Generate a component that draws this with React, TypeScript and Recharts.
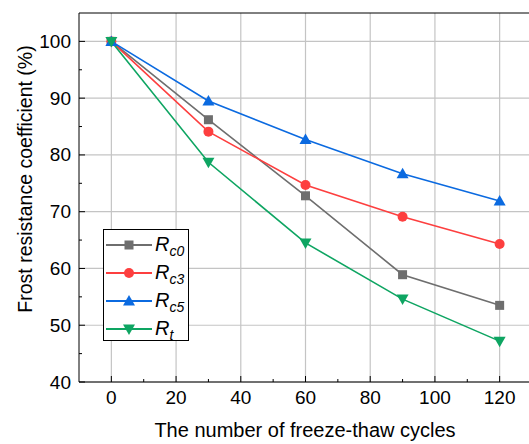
import React from 'react';
import { LineChart, Line, XAxis, YAxis, CartesianGrid, ReferenceLine } from 'recharts';

const cycles = [0, 30, 60, 90, 120];
const rc0 = [100, 86.2, 72.8, 58.9, 53.5];
const rc3 = [100, 84.1, 74.7, 69.1, 64.3];
const rc5 = [100, 89.5, 82.7, 76.7, 71.9];
const rt = [100, 78.7, 64.5, 54.6, 47.2];

const xTicks = [0, 10, 20, 30, 40, 50, 60, 70, 80, 90, 100, 110, 120];
const xMajor = [0, 20, 40, 60, 80, 100, 120];
const yTicks = [40, 45, 50, 55, 60, 65, 70, 75, 80, 85, 90, 95, 100];
const yMajor = [40, 50, 60, 70, 80, 90, 100];

const FONT = '"Liberation Sans", Arial, sans-serif';

const data = cycles.map((c, i) => ({ cycles: c, rc0: rc0[i], rc3: rc3[i], rc5: rc5[i], rt: rt[i] }));

type Shape = 'square' | 'circle' | 'up' | 'down';

const series: { key: string; sub: string; color: string; shape: Shape }[] = [
  { key: 'rc0', sub: 'c0', color: '#6e6e6e', shape: 'square' },
  { key: 'rc3', sub: 'c3', color: '#fd3f3f', shape: 'circle' },
  { key: 'rc5', sub: 'c5', color: '#0b6ae0', shape: 'up' },
  { key: 'rt', sub: 't', color: '#0ea562', shape: 'down' },
];

const marker = (shape: Shape, cx: number, cy: number, color: string) => {
  if (shape === 'square') return <rect x={cx - 4.5} y={cy - 4.5} width={9} height={9} fill={color} />;
  if (shape === 'circle') return <circle cx={cx} cy={cy} r={5} fill={color} />;
  if (shape === 'up')
    return <polygon points={`${cx},${cy - 6} ${cx - 6},${cy + 4.5} ${cx + 6},${cy + 4.5}`} fill={color} />;
  return <polygon points={`${cx},${cy + 6} ${cx - 6},${cy - 4.5} ${cx + 6},${cy - 4.5}`} fill={color} />;
};

const XTick = (props: any) => {
  const { x, y, payload } = props;
  const major = xMajor.includes(payload.value);
  return (
    <g>
      <line x1={x} x2={x} y1={y} y2={y - (major ? 6 : 3)} stroke="#000" strokeWidth={1} />
      {major && (
        <text x={x} y={y + 22} textAnchor="middle" fontSize={19} fontFamily={FONT} fill="#000">
          {payload.value}
        </text>
      )}
    </g>
  );
};

const YTick = (props: any) => {
  const { x, y, payload } = props;
  const major = yMajor.includes(payload.value);
  return (
    <g>
      <line x1={x} x2={x + (major ? 6 : 3)} y1={y} y2={y} stroke="#000" strokeWidth={1} />
      {major && (
        <text x={x - 8} y={y + 6.5} textAnchor="end" fontSize={19} fontFamily={FONT} fill="#000">
          {payload.value}
        </text>
      )}
    </g>
  );
};

const LegendBox = () => (
  <div
    style={{
      position: 'absolute',
      left: 103,
      top: 229,
      width: 84,
      height: 110,
      border: '1px solid #000',
      background: '#fff',
      fontFamily: FONT,
    }}
  >
    {series.map((s, i) => (
      <div key={s.key} style={{ position: 'absolute', left: 0, top: 2 + i * 28, height: 26, width: 84 }}>
        <svg width={48} height={26} style={{ position: 'absolute', left: 2, top: 0 }}>
          <line x1={0} x2={46} y1={13} y2={13} stroke={s.color} strokeWidth={2} />
          {marker(s.shape, 23, 13, s.color)}
        </svg>
        <span style={{ position: 'absolute', left: 51, top: 0, fontSize: 20, fontStyle: 'italic', lineHeight: '24px' }}>
          R<sub style={{ fontSize: 14, verticalAlign: '-5px' }}>{s.sub}</sub>
        </span>
      </div>
    ))}
  </div>
);

export default function App() {
  return (
    <div style={{ position: 'absolute', left: 0, top: 0, width: 529, height: 444, overflow: 'hidden', background: '#fff' }}>
      <LineChart width={532} height={444} data={data} margin={{ top: 13, right: 0, left: 0, bottom: 0 }}>
        <CartesianGrid
          stroke="#c4c4c4"
          strokeWidth={1.2}
          verticalValues={xMajor}
          horizontalValues={yMajor}
        />
        <XAxis
          dataKey="cycles"
          type="number"
          domain={[-10, 130]}
          ticks={xTicks}
          tick={<XTick />}
          tickLine={false}
          tickSize={0}
          tickMargin={0}
          height={62}
          stroke="#000"
          interval={0}
          label={(p: any) => (
            <text x={305} y={437} textAnchor="middle" fontSize={20} fontFamily={FONT} fill="#000">
              The number of freeze-thaw cycles
            </text>
          )}
        />
        <YAxis
          type="number"
          domain={[40, 105]}
          ticks={yTicks}
          tick={<YTick />}
          tickLine={false}
          tickSize={0}
          tickMargin={0}
          width={79}
          stroke="#000"
          interval={0}
          label={(p: any) => (
            <text
              x={0}
              y={0}
              transform="translate(32,179) rotate(-90)"
              textAnchor="middle"
              fontSize={19.5}
              fontFamily={FONT}
              fill="#000"
            >
              Frost resistance coefficient (%)
            </text>
          )}
        />
        <ReferenceLine y={105} stroke="#000" strokeWidth={1} ifOverflow="visible" />
        {series.map((s) => (
          <Line
            key={s.key}
            dataKey={s.key}
            stroke={s.color}
            strokeWidth={1.6}
            isAnimationActive={false}
            dot={(p: any) => <g key={`${s.key}-${p.index}`}>{marker(s.shape, p.cx, p.cy, s.color)}</g>}
            activeDot={false}
          />
        ))}
      </LineChart>
      <LegendBox />
    </div>
  );
}
